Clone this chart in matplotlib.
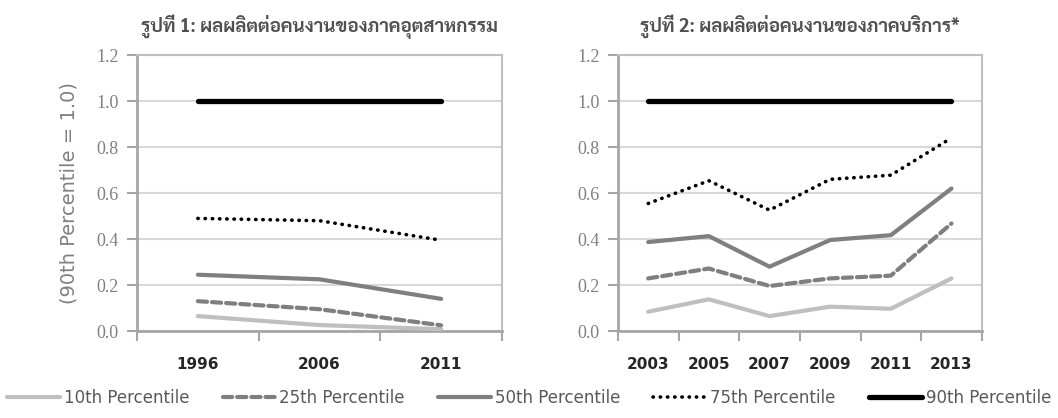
import matplotlib
matplotlib.use('Agg')
import matplotlib.pyplot as plt
from matplotlib.lines import Line2D

# รูปที่ 1: ภาคอุตสาหกรรม
years_ind = ['1996', '2006', '2011']
ind_p10 = [0.065, 0.026, 0.008]
ind_p25 = [0.13, 0.095, 0.025]
ind_p50 = [0.245, 0.225, 0.14]
ind_p75 = [0.49, 0.48, 0.395]
ind_p90 = [1.0, 1.0, 1.0]

# รูปที่ 2: ภาคบริการ
years_srv = ['2003', '2005', '2007', '2009', '2011', '2013']
srv_p10 = [0.084, 0.138, 0.065, 0.106, 0.097, 0.229]
srv_p25 = [0.229, 0.272, 0.196, 0.229, 0.241, 0.468]
srv_p50 = [0.387, 0.413, 0.28, 0.396, 0.417, 0.62]
srv_p75 = [0.555, 0.654, 0.526, 0.66, 0.678, 0.84]
srv_p90 = [1.0, 1.0, 1.0, 1.0, 1.0, 1.0]

labels = ['10th Percentile', '25th Percentile', '50th Percentile', '75th Percentile', '90th Percentile']
titles = ['รูปที่ 1: ผลผลิตต่อคนงานของภาคอุตสาหกรรม', 'รูปที่ 2: ผลผลิตต่อคนงานของภาคบริการ*']

styles = [
    dict(color='#bfbfbf', lw=3.0, ls='-', solid_capstyle='round'),
    dict(color='#7f7f7f', lw=3.0, ls=(0, (2.2, 1.2)), dash_capstyle='round'),
    dict(color='#7f7f7f', lw=3.0, ls='-', solid_capstyle='round'),
    dict(color='black', lw=2.6, ls=(0, (0.1, 1.9)), dash_capstyle='round'),
    dict(color='black', lw=3.8, ls='-', solid_capstyle='round'),
]

thai = ['Sarabun', 'DejaVu Sans']
spine_c = '#a6a6a6'


def draw(ax, years, series, title):
    x = list(range(len(years)))
    for vals, st in zip(series, styles):
        ax.plot(x, vals, **st, zorder=3)
    ax.set_xlim(-0.5, len(years) - 0.5)
    ax.set_ylim(0, 1.2)
    ax.set_yticks([0, 0.2, 0.4, 0.6, 0.8, 1.0, 1.2])
    ax.set_yticklabels(['%.1f' % v for v in [0, 0.2, 0.4, 0.6, 0.8, 1.0, 1.2]],
                       family='Liberation Serif', fontsize=13, color='#808080')
    ax.grid(axis='y', color='#d9d9d9', lw=1.5, zorder=0)
    ax.set_xticks([i - 0.5 for i in range(len(years) + 1)])
    ax.set_xticklabels([])
    ax.set_xticks(x, minor=True)
    ax.set_xticklabels(years, minor=True, fontsize=11, fontweight='bold', color='#262626')
    ax.tick_params(axis='x', which='minor', length=0, pad=19)
    ax.tick_params(axis='x', which='major', length=7, width=1.5, color=spine_c, direction='out')
    ax.tick_params(axis='y', length=7, width=1.5, color=spine_c, direction='out', pad=6)
    for s in ['left', 'bottom']:
        ax.spines[s].set_color(spine_c)
        ax.spines[s].set_linewidth(2)
    for s in ['top', 'right']:
        ax.spines[s].set_color('#bfbfbf')
        ax.spines[s].set_linewidth(1.5)
    ax.set_title(title, family=thai, fontsize=13.5, fontweight='bold', color='#505050', pad=17)


fig = plt.figure(figsize=(10.58, 4.18), dpi=100)
ax1 = fig.add_axes([0.1295, 0.208, 0.345, 0.66])
ax2 = fig.add_axes([0.584, 0.208, 0.344, 0.66])

draw(ax1, years_ind, [ind_p10, ind_p25, ind_p50, ind_p75, ind_p90], titles[0])
draw(ax2, years_srv, [srv_p10, srv_p25, srv_p50, srv_p75, srv_p90], titles[1])

ax1.set_ylabel('(90th Percentile = 1.0)', fontsize=14, color='#808080')
ax1.yaxis.set_label_coords(-0.16, 0.5)

handles = [Line2D([], [], **st) for st in styles]
fig.legend(handles, labels, loc='lower center', bbox_to_anchor=(0.5, -0.01), ncol=5,
           frameon=False, fontsize=12, handlelength=3.2, handletextpad=0.2,
           columnspacing=2.0, labelcolor='#595959')

fig.savefig('out.png', dpi=100)
